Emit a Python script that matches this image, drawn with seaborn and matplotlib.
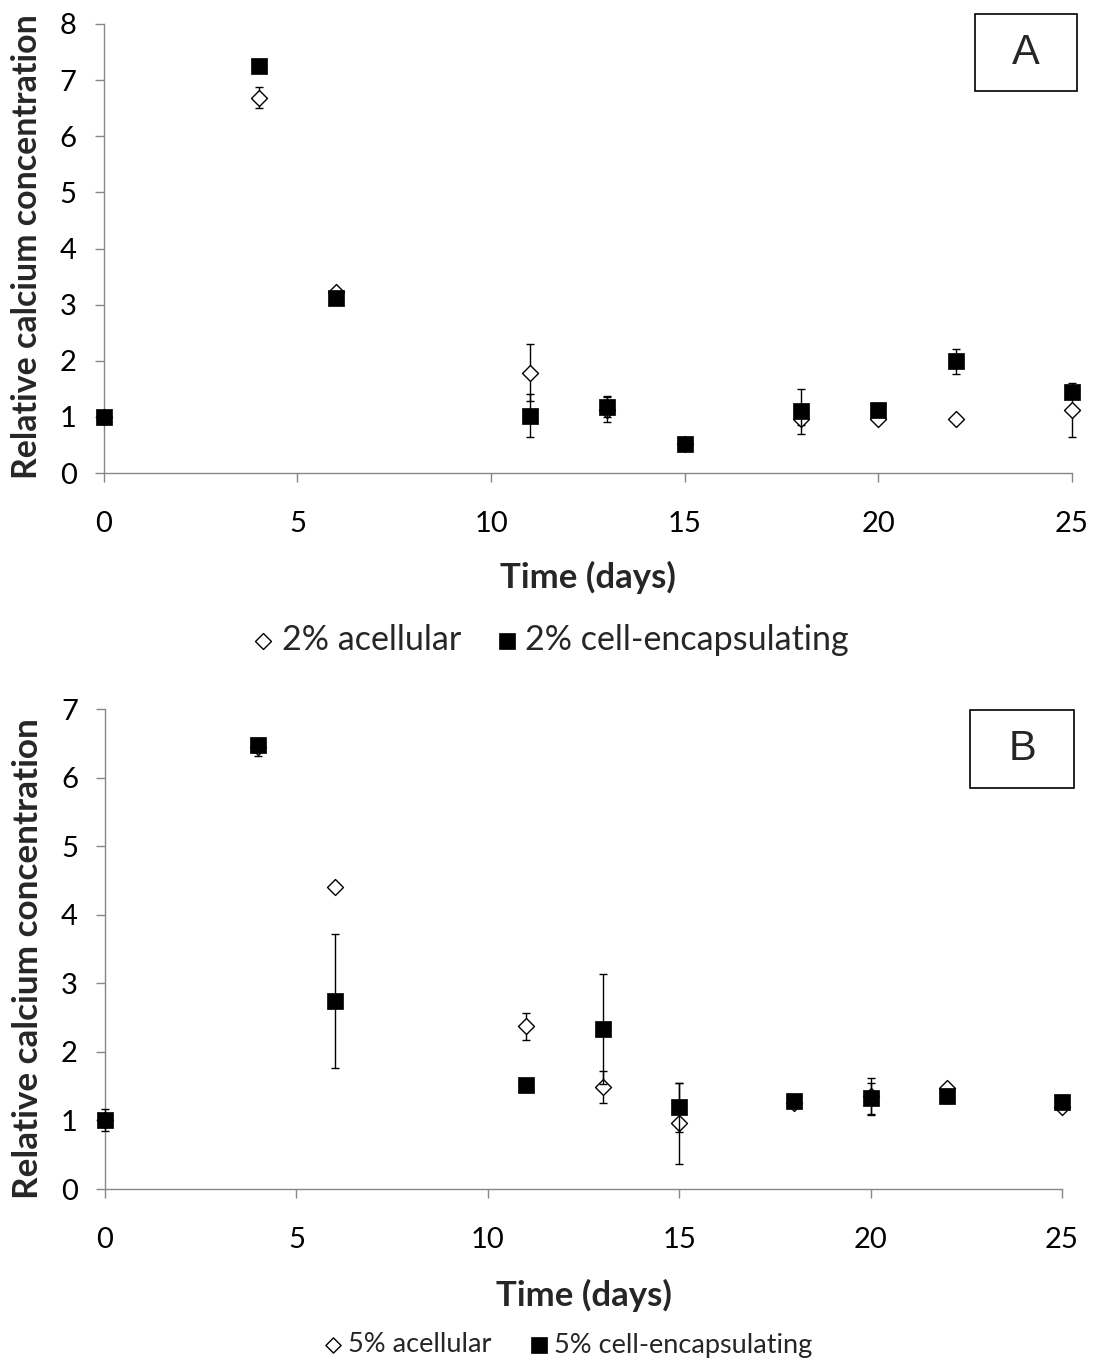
import matplotlib
matplotlib.use("Agg")
import matplotlib.pyplot as plt
from matplotlib.patches import Rectangle
import pandas as pd
import seaborn as sns

# Sampling days
days = [0, 4, 6, 11, 13, 15, 18, 20, 22, 25]

# Panel A: 2% hydrogels
acell_2 = [1.00, 6.69, 3.22, 1.79, 1.13, 0.52, 0.96, 0.97, 0.96, 1.12]
acell_2_err = [0.05, 0.18, 0.05, 0.50, 0.23, 0.03, 0.10, 0.05, 0.04, 0.48]
cell_2 = [1.00, 7.26, 3.12, 1.02, 1.18, 0.52, 1.10, 1.12, 1.99, 1.45]
cell_2_err = [0.08, 0.05, 0.08, 0.38, 0.19, 0.03, 0.40, 0.06, 0.22, 0.08]

# Panel B: 5% hydrogels
acell_5 = [1.00, 6.44, 4.40, 2.37, 1.49, 0.96, 1.25, 1.35, 1.47, 1.20]
acell_5_err = [0.10, 0.13, 0.05, 0.19, 0.23, 0.59, 0.05, 0.27, 0.05, 0.05]
cell_5 = [1.01, 6.47, 2.74, 1.51, 2.33, 1.19, 1.29, 1.32, 1.36, 1.27]
cell_5_err = [0.16, 0.05, 0.98, 0.05, 0.80, 0.36, 0.05, 0.22, 0.10, 0.05]

x_ticks = [0, 5, 10, 15, 20, 25]

sns.set_theme(style="ticks")
plt.rcParams["font.family"] = ["Lato", "DejaVu Sans"]

GRAY = "#878787"
W, H = 1096, 1363

fig = plt.figure(figsize=(W / 100, H / 100), dpi=100)
ax_a = fig.add_axes([103.7 / W, 1 - 473 / H, (1072 - 103.7) / W, (473 - 24) / H])
ax_b = fig.add_axes([105 / W, 1 - 1189 / H, (1062 - 105) / W, (1189 - 709) / H])


def draw_panel(ax, acell, acell_err, cell, cell_err, names, ymax,
               xlabelpad, ylabel_size):
    df = pd.DataFrame({"day": days, "acell": acell, "cell": cell})
    eb = ax.errorbar(df["day"], df["acell"], yerr=acell_err, fmt="none", ecolor="black",
                     elinewidth=1.0, capsize=3, capthick=1.0, zorder=2)
    for art in eb.lines[1] + eb.lines[2]:
        art.set_clip_on(False)
    sns.scatterplot(data=df, x="day", y="acell", ax=ax, marker="D", s=66,
                    color="white", edgecolor="black", linewidth=1.0,
                    label=names[0], zorder=3, clip_on=False)
    eb = ax.errorbar(df["day"], df["cell"], yerr=cell_err, fmt="none", ecolor="black",
                     elinewidth=1.0, capsize=3, capthick=1.0, zorder=4)
    for art in eb.lines[1] + eb.lines[2]:
        art.set_clip_on(False)
    sns.scatterplot(data=df, x="day", y="cell", ax=ax, marker="s", s=130,
                    color="black", edgecolor="black", linewidth=0.5,
                    label=names[1], zorder=5, clip_on=False)

    ax.set_xlim(0, 25)
    ax.set_ylim(0, ymax)
    ax.set_xticks(x_ticks)
    ax.set_yticks(range(0, ymax + 1))
    for side in ("top", "right"):
        ax.spines[side].set_visible(False)
    for side in ("left", "bottom"):
        ax.spines[side].set_color(GRAY)
        ax.spines[side].set_linewidth(1.0)
        ax.spines[side].set_zorder(1)
    ax.tick_params(axis="both", direction="out", length=6.5, width=1.0,
                   color=GRAY, labelsize=21, labelcolor="black")
    ax.tick_params(axis="x", pad=20.5)
    ax.tick_params(axis="y", pad=13)
    ax.set_xlabel("Time (days)", fontsize=25, fontweight="bold", labelpad=xlabelpad)
    ax.set_ylabel("Relative calcium concentration", fontsize=ylabel_size,
                  fontweight="bold", va="center")


draw_panel(ax_a, acell_2, acell_2_err, cell_2, cell_2_err,
           ["2% acellular", "2% cell-encapsulating"], 8, 17.5, 24.4)
draw_panel(ax_b, acell_5, acell_5_err, cell_5, cell_5_err,
           ["5% acellular", "5% cell-encapsulating"], 7, 19, 25.3)

ax_a.yaxis.set_label_coords((27 - 103.7) / (1072 - 103.7), 0.505)
ax_b.yaxis.set_label_coords((28 - 105) / (1062 - 105), 0.481)

ax_a.legend(loc="center", bbox_to_anchor=(550 / W, 1 - 640 / H),
            bbox_transform=fig.transFigure, ncol=2, frameon=False,
            fontsize=24.5, handlelength=0.7, handletextpad=0.2,
            columnspacing=1.0, markerscale=1.0)
ax_b.legend(loc="center", bbox_to_anchor=(568 / W, 1 - 1345 / H),
            bbox_transform=fig.transFigure, ncol=2, frameon=False,
            fontsize=19.5, handlelength=0.7, handletextpad=0.2,
            columnspacing=1.4, markerscale=0.95)

# Panel tags
for tag, (x0, y0, x1, y1) in (("A", (975, 14, 1077, 91)), ("B", (970, 710, 1074, 788))):
    fig.patches.append(Rectangle((x0 / W, 1 - y1 / H), (x1 - x0) / W, (y1 - y0) / H,
                                 transform=fig.transFigure, fill=False,
                                 edgecolor="black", linewidth=1.2))
    fig.text((x0 + x1) / 2 / W, 1 - (y0 + y1) / 2 / H, tag, ha="center", va="center",
             fontsize=30, family=["Liberation Sans", "DejaVu Sans"])

fig.savefig("out.png", dpi=100, facecolor="white")
